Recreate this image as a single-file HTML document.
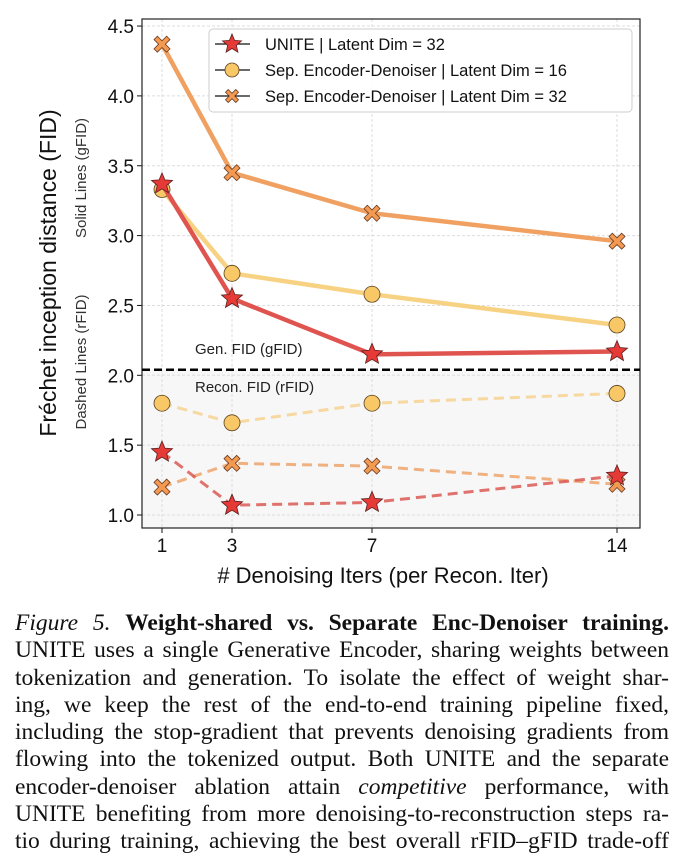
<!DOCTYPE html>
<html><head><meta charset="utf-8"><style>
body{margin:0;background:#fff;width:684px;height:868px;overflow:hidden;position:relative}
#cap{position:absolute;left:15px;top:610px;width:654px;font-family:"Liberation Serif",serif;font-size:23.5px;line-height:27.3px;color:#111}
#cap div{text-align:justify;text-align-last:justify;white-space:nowrap}
</style></head><body>
<svg id="chart" width="684" height="600" style="position:absolute;left:0;top:0" font-family="Liberation Sans, DejaVu Sans, sans-serif"></svg>
<div id="cap">
<div><i>Figure 5.</i> <b>Weight-shared vs. Separate Enc-Denoiser training.</b></div>
<div>UNITE uses a single Generative Encoder, sharing weights between</div>
<div>tokenization and generation. To isolate the effect of weight shar-</div>
<div>ing, we keep the rest of the end-to-end training pipeline fixed,</div>
<div>including the stop-gradient that prevents denoising gradients from</div>
<div>flowing into the tokenized output. Both UNITE and the separate</div>
<div>encoder-denoiser ablation attain <i>competitive</i> performance, with</div>
<div>UNITE benefiting from more denoising-to-reconstruction steps ra-</div>
<div>tio during training, achieving the best overall rFID–gFID trade-off</div>
</div>
<script>
const xVals=[1,3,7,14];
const yTicks=[1.0,1.5,2.0,2.5,3.0,3.5,4.0,4.5];
const uniteG=[3.37,2.55,2.15,2.17];
const uniteR=[1.45,1.07,1.09,1.28];
const sep16G=[3.33,2.73,2.58,2.36];
const sep16R=[1.80,1.66,1.80,1.87];
const sep32G=[4.37,3.45,3.16,2.96];
const sep32R=[1.20,1.37,1.35,1.22];
const divider=2.04;
const NS="http://www.w3.org/2000/svg";
const svg=document.getElementById('chart');
const L=142,R=640,T=19,B=528;
const X=v=>162+(v-1)*35;
const Y=v=>515-(v-1)*139.7;
function el(t,a,p){const e=document.createElementNS(NS,t);for(const k in a)e.setAttribute(k,a[k]);(p||svg).appendChild(e);return e;}
const shade=el('rect',{x:L,y:Y(divider),width:R-L,height:B-Y(divider),fill:'#f7f7f7'});


xVals.forEach(v=>{const g=el('line',{x1:X(v),x2:X(v),y1:T,y2:B,stroke:'#ddd','stroke-width':1,'stroke-dasharray':'3 2'});


const t=el('text',{x:X(v),y:552,'font-size':19,'text-anchor':'middle',fill:'#111'});t.textContent=v;


el('line',{x1:X(v),x2:X(v),y1:B,y2:B+5,stroke:'#111'});});
yTicks.forEach(v=>{const g=el('line',{x1:L,x2:R,y1:Y(v),y2:Y(v),stroke:'#ddd','stroke-width':1,'stroke-dasharray':'3 2'});


const t=el('text',{x:134,y:Y(v)+7,'font-size':19,'text-anchor':'end',fill:'#111'});t.textContent=v.toFixed(1);


el('line',{x1:L-5,x2:L,y1:Y(v),y2:Y(v),stroke:'#111'});});
const frame=el('rect',{x:L,y:T,width:R-L,height:B-T,fill:'none',stroke:'#222','stroke-width':1.2});


const dl=el('line',{x1:L,x2:R,y1:Y(divider),y2:Y(divider),stroke:'#000','stroke-width':2.5,'stroke-dasharray':'8 4'});


function txt(s,a,name){const t=el('text',a);t.textContent=s;return t;}
txt('Gen. FID (gFID)',{x:195,y:354,'font-size':15,fill:'#222'},'gfid-label');
txt('Recon. FID (rFID)',{x:195,y:392,'font-size':15,fill:'#222'},'rfid-label');
function star(cx,cy,r,fill,p){let pts=[];for(let i=0;i<10;i++){const a=-Math.PI/2+i*Math.PI/5;const rr=i%2?r*0.45:r;pts.push((cx+rr*Math.cos(a)).toFixed(1)+','+(cy+rr*Math.sin(a)).toFixed(1));}return el('polygon',{points:pts.join(' '),fill:fill,stroke:'#5a2020','stroke-width':0.8},p);}
function cross(cx,cy,r,fill,p){const w=r*0.42;const d=`M${cx-r+w},${cy-r} L${cx},${cy-w} L${cx+r-w},${cy-r} L${cx+r},${cy-r+w} L${cx+w},${cy} L${cx+r},${cy+r-w} L${cx+r-w},${cy+r} L${cx},${cy+w} L${cx-r+w},${cy+r} L${cx-r},${cy+r-w} L${cx-w},${cy} L${cx-r},${cy-r+w} Z`;return el('path',{d:d,fill:fill,stroke:'#6a3a20','stroke-width':0.8},p);}
function circ(cx,cy,r,fill,p){return el('circle',{cx:cx,cy:cy,r:r,fill:fill,stroke:'#5a4020','stroke-width':0.8},p);}
function series(vals,color,mfill,mk,dash,name){const g=el('g',{});
el('polyline',{points:vals.map((v,i)=>X(xVals[i])+','+Y(v)).join(' '),fill:'none',stroke:color,'stroke-width':dash?3:4.5,'stroke-dasharray':dash?'10 6':'none','stroke-linejoin':'round',opacity:dash?0.85:1},g);
vals.forEach((v,i)=>{const m=mk(X(xVals[i]),Y(v),mk===circ?8:(mk===cross?8:11),mfill,g);});}
series(sep16R,'#f6d291','#f8c867',circ,true,'sep16-rfid-line');
series(sep32R,'#eea46c','#f39a52',cross,true,'sep32-rfid-line');
series(uniteR,'#dc5a55','#e53a35',star,true,'unite-rfid-line');
series(sep16G,'#f8d283','#f8c867',circ,false,'sep16-gfid-line');
series(uniteG,'#e05450','#e53a35',star,false,'unite-gfid-line');
series(sep32G,'#f0a060','#f39a52',cross,false,'sep32-gfid-line');
const lg=el('g',{});
el('rect',{x:209,y:29,width:423,height:83,rx:4,fill:'#fff',stroke:'#ccc',opacity:0.95},lg);
const items=[['UNITE | Latent Dim = 32',star,'#e53a35',10],['Sep. Encoder-Denoiser | Latent Dim = 16',circ,'#f8c867',7],['Sep. Encoder-Denoiser | Latent Dim = 32',cross,'#f39a52',6.5]];
items.forEach((it,i)=>{const y=44+i*26;const g=el('g',{},lg);
el('line',{x1:215,x2:250,y1:y,y2:y,stroke:'#111','stroke-width':1.2},g);it[1](232,y,it[3],it[2],g);
const t=el('text',{x:265,y:y+6,'font-size':16.5,fill:'#111'},g);t.textContent=it[0];});
txt('# Denoising Iters (per Recon. Iter)',{x:383,y:583,'font-size':22,'text-anchor':'middle',fill:'#111'},'x-axis-title');
txt('Fréchet inception distance (FID)',{x:0,y:0,'font-size':23,'text-anchor':'middle',fill:'#111',transform:'translate(56,273) rotate(-90)'},'y-axis-title');
txt('Solid Lines (gFID)',{x:0,y:0,'font-size':15,'text-anchor':'middle',fill:'#333',transform:'translate(86,178) rotate(-90)'},'solid-lines-note');
txt('Dashed Lines (rFID)',{x:0,y:0,'font-size':15,'text-anchor':'middle',fill:'#333',transform:'translate(86,362) rotate(-90)'},'dashed-lines-note');
</script>
</body></html>
